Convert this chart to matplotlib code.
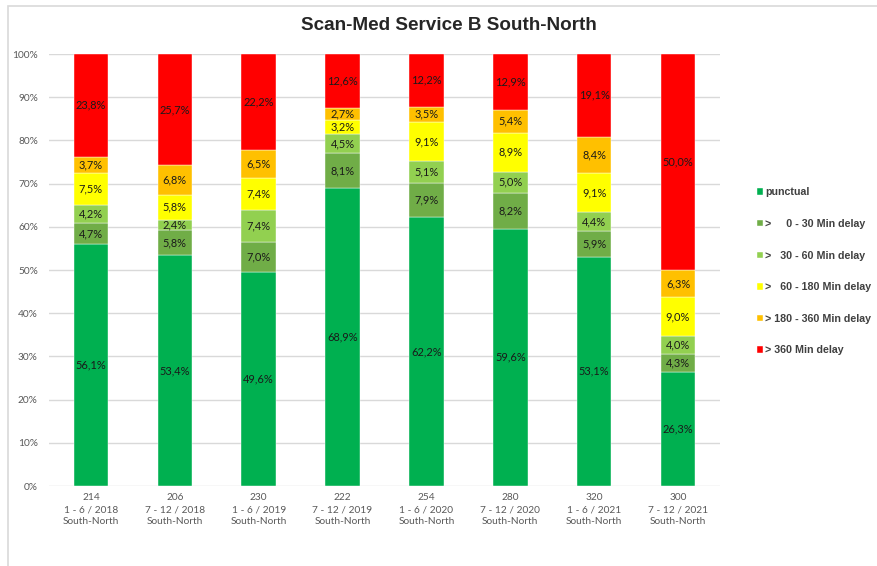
import numpy as np
import matplotlib
matplotlib.use('Agg')
import matplotlib.pyplot as plt
from matplotlib.patches import Rectangle

# Data (percent of trains per half-year)
counts = ['214', '206', '230', '222', '254', '280', '320', '300']
periods = ['1 - 6 / 2018', '7 - 12 / 2018', '1 - 6 / 2019', '7 - 12 / 2019',
           '1 - 6 / 2020', '7 - 12 / 2020', '1 - 6 / 2021', '7 - 12 / 2021']
direction = 'South-North'

punctual = [56.1, 53.4, 49.6, 68.9, 62.2, 59.6, 53.1, 26.3]
delay_0_30 = [4.7, 5.8, 7.0, 8.1, 7.9, 8.2, 5.9, 4.3]
delay_30_60 = [4.2, 2.4, 7.4, 4.5, 5.1, 5.0, 4.4, 4.0]
delay_60_180 = [7.5, 5.8, 7.4, 3.2, 9.1, 8.9, 9.1, 9.0]
delay_180_360 = [3.7, 6.8, 6.5, 2.7, 3.5, 5.4, 8.4, 6.3]
delay_360 = [23.8, 25.7, 22.2, 12.6, 12.2, 12.9, 19.1, 50.0]

series_names = ['punctual', '>     0 - 30 Min delay', '>   30 - 60 Min delay',
                '>   60 - 180 Min delay', '> 180 - 360 Min delay', '> 360 Min delay']
colors = ['#00B050', '#70AD47', '#92D050', '#FFFF00', '#FFC000', '#FF0000']

series = [punctual, delay_0_30, delay_30_60, delay_60_180, delay_180_360, delay_360]
values = np.array(series, dtype=float)
# 100% stacked: normalise each column
shares = values / values.sum(axis=0) * 100

W, H = 877, 566
fig = plt.figure(figsize=(W / 100, H / 100), dpi=100)
ax = fig.add_axes([49 / W, 1 - 486 / H, (720 - 49) / W, (486 - 54) / H])

# chart area border (left and top visible)
fig.patches.append(Rectangle((7.5 / W, -0.1), 1.2, (1 - 5.5 / H) + 0.1,
                             transform=fig.transFigure, fill=False,
                             edgecolor='#D9D9D9', linewidth=1.2))

x = np.arange(len(counts))
bottom = np.zeros(len(counts))
handles = []
for name, col, raw, share in zip(series_names, colors, values, shares):
    bars = ax.bar(x, share, 0.41, bottom=bottom, color=col, label=name,
                  edgecolor='white', linewidth=0.3, zorder=3)
    handles.append(bars)
    for xi, b, s, r in zip(x, bottom, share, raw):
        ax.text(xi, b + s / 2, f'{r:.1f}%'.replace('.', ','), ha='center',
                va='center', fontsize=7.9, family='Lato', color='#1a1a1a', zorder=4)
    bottom += share

ax.set_xlim(-0.5, len(counts) - 0.5)
ax.set_ylim(0, 100)
ax.set_yticks(np.arange(0, 101, 10))
ax.set_yticklabels([f'{t}%' for t in range(0, 101, 10)])
ax.set_xticks(x)
ax.set_xticklabels([f'{c}\n{p}\n{direction}' for c, p in zip(counts, periods)],
                   linespacing=1.45)
for lab in ax.get_xticklabels() + ax.get_yticklabels():
    lab.set_family('Lato')
    lab.set_fontsize(7.3)
    lab.set_color('#595959')
ax.tick_params(length=0)
ax.tick_params(axis='y', pad=8)
ax.tick_params(axis='x', pad=5)
ax.grid(axis='y', color='#D9D9D9', linewidth=1, zorder=0)
for sp in ax.spines.values():
    sp.set_visible(False)

fig.text(449 / W, 1 - 26 / H, 'Scan-Med Service B South-North', ha='center',
         va='center', fontsize=13.6, fontweight='bold', family='Liberation Sans',
         color='#262626')

leg = fig.legend(handles=handles, labels=series_names, loc='upper left',
                 bbox_to_anchor=(752 / W, 1 - 182 / H), frameon=False,
                 prop={'family': 'Liberation Sans', 'weight': 'bold', 'size': 7.7},
                 handlelength=0.55, handleheight=0.55, handletextpad=0.2,
                 labelspacing=2.02, borderpad=0)
for t in leg.get_texts():
    t.set_color('#404040')

fig.savefig('out.png', dpi=100)
